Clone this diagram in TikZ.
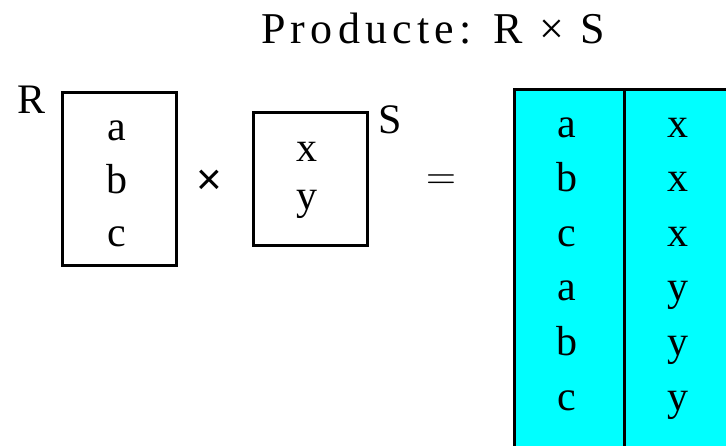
\documentclass[tikz,border=0pt]{standalone}
\usepackage{fontspec}
\setmainfont{Liberation Serif}
\newfontfamily\sansfont{Liberation Sans}
\newfontfamily\titlefont[LetterSpace=12]{Liberation Serif}
\definecolor{resultcyan}{RGB}{0,255,255}

\begin{document}
\begin{tikzpicture}[x=0.5pt, y=-0.5pt, line width=1.5pt,
    letter/.style={anchor=base, inner sep=0pt, font=\fontsize{21}{25}\selectfont},
    relbox/.style={draw, rectangle, inner sep=0pt}]

    \useasboundingbox (0,0) rectangle (726,445);
    \clip (0,0) rectangle (726,445);

    % Draw title
    \node [anchor=base, inner sep=0pt, font=\titlefont\fontsize{22}{26}\selectfont] (title) at (433,43) {Producte: R × S};

    % Draw relation R
    \node [relbox, minimum width=57pt, minimum height=86.5pt] (relR) at (119,178.5) {};
    \node [letter, anchor=base west] (nameR) at (16,113) {R};
    \foreach \v [count=\i from 0] in {a,b,c}
        \node [letter] (r\i) at (117,{140+53*\i}) {\v};

    % Draw product sign
    \node [inner sep=0pt, font=\sansfont\fontsize{22}{26}\selectfont] (times) at (209,182) {×};

    % Draw relation S
    \node [relbox, minimum width=57pt, minimum height=66.5pt] (relS) at (310,178.5) {};
    \node [letter, anchor=base west] (nameS) at (377,133) {S};
    \foreach \v [count=\i from 0] in {x,y}
        \node [letter] (s\i) at (307,{161+48*\i}) {\v};

    % Draw equals sign
    \node [inner sep=0pt, font=\fontsize{20}{24}\selectfont] (equals) at (441,182) {$=$};

    % Draw result
    \node [draw, fill=resultcyan, anchor=north west, minimum width=130pt, minimum height=200pt] (result) at (513,88) {};
    \draw (624,88) -- (624,470);
    \foreach \l/\r [count=\i from 0] in {a/x,b/x,c/x,a/y,b/y,c/y} {
        \node [letter] (left\i) at (567,{137+54.6*\i}) {\l};
        \node [letter] (right\i) at (678,{137+54.6*\i}) {\r};
    }

\end{tikzpicture}
\end{document}
